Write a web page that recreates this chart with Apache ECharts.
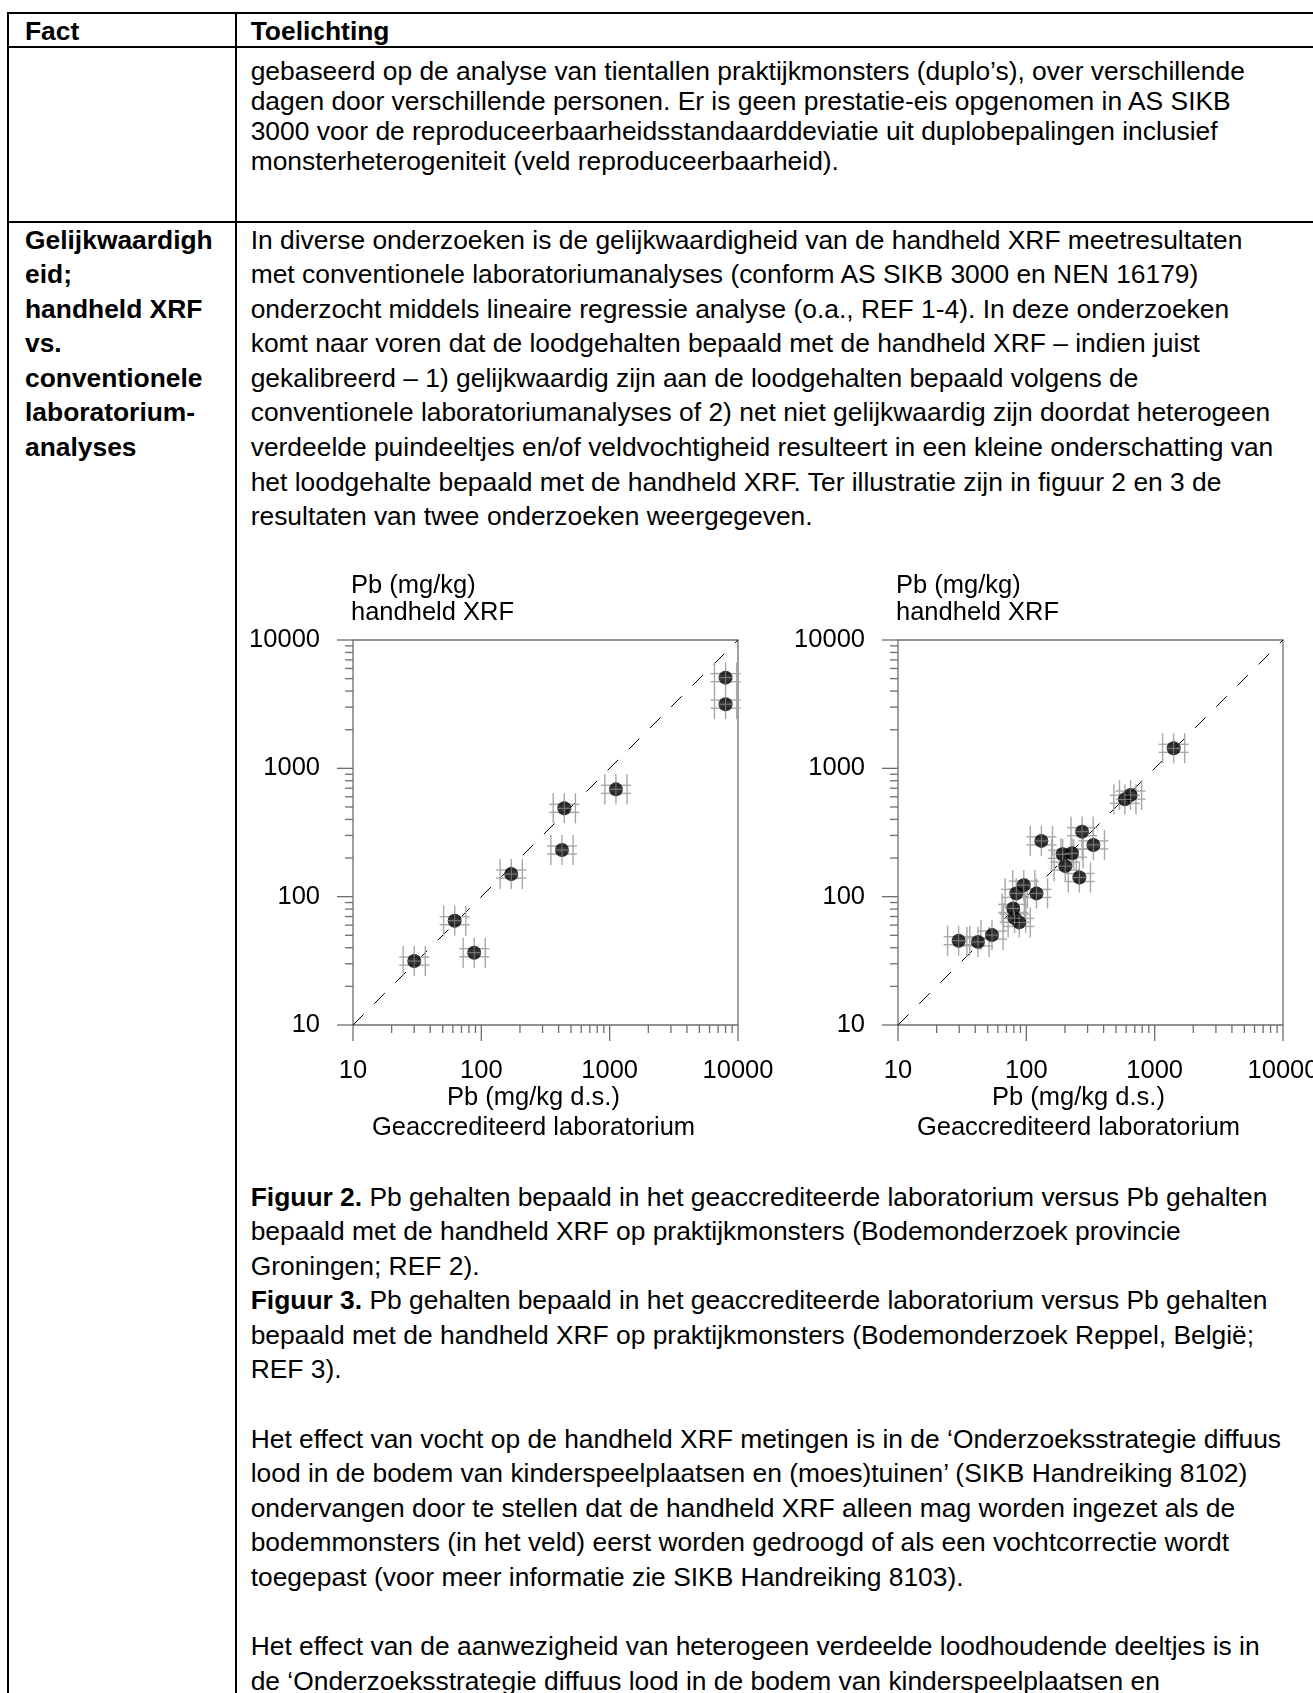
<!DOCTYPE html>
<html><head><meta charset="utf-8">
<script src="https://cdn.jsdelivr.net/npm/echarts@6/dist/echarts.min.js"></script>
<style>
html,body{margin:0;padding:0;background:#fff;width:1313px;height:1693px;overflow:hidden;}
body{position:relative;font-family:"Liberation Sans",Arial,sans-serif;font-size:26.4px;color:#000;}
.hl{position:absolute;left:7px;right:0;height:2px;background:#000;}
.vl{position:absolute;top:12px;bottom:0;width:2px;background:#000;}
.blk{position:absolute;line-height:34.6px;white-space:nowrap;}
.b{font-weight:bold;}
#chart{position:absolute;left:0;top:568px;width:1400px;height:612px;}
</style></head><body>
<div class="hl" style="top:12px"></div>
<div class="hl" style="top:46px"></div>
<div class="hl" style="top:221px"></div>
<div class="vl" style="left:7px"></div>
<div class="vl" style="left:235px"></div>
<div class="blk b" style="left:25px;top:14px">Fact</div>
<div class="blk b" style="left:250.7px;top:14px">Toelichting</div>
<div class="blk" style="left:250.7px;top:56px;line-height:30px">gebaseerd op de analyse van tientallen praktijkmonsters (duplo’s), over verschillende<br>dagen door verschillende personen. Er is geen prestatie-eis opgenomen in AS SIKB<br>3000 voor de reproduceerbaarheidsstandaarddeviatie uit duplobepalingen inclusief<br>monsterheterogeniteit (veld reproduceerbaarheid).</div>
<div class="blk b" style="left:25px;top:222.5px">Gelijkwaardigh<br>eid;<br>handheld XRF<br>vs.<br>conventionele<br>laboratorium-<br>analyses</div>
<div class="blk" style="left:250.7px;top:222.5px">In diverse onderzoeken is de gelijkwaardigheid van de handheld XRF meetresultaten<br>met conventionele laboratoriumanalyses (conform AS SIKB 3000 en NEN 16179)<br>onderzocht middels lineaire regressie analyse (o.a., REF 1-4). In deze onderzoeken<br>komt naar voren dat de loodgehalten bepaald met de handheld XRF – indien juist<br>gekalibreerd – 1) gelijkwaardig zijn aan de loodgehalten bepaald volgens de<br>conventionele laboratoriumanalyses of 2) net niet gelijkwaardig zijn doordat heterogeen<br>verdeelde puindeeltjes en/of veldvochtigheid resulteert in een kleine onderschatting van<br>het loodgehalte bepaald met de handheld XRF. Ter illustratie zijn in figuur 2 en 3 de<br>resultaten van twee onderzoeken weergegeven.</div>
<div id="chart"></div>
<div class="blk" style="left:250.7px;top:1179.5px"><b>Figuur 2.</b> Pb gehalten bepaald in het geaccrediteerde laboratorium versus Pb gehalten<br>bepaald met de handheld XRF op praktijkmonsters (Bodemonderzoek provincie<br>Groningen; REF 2).<br><b>Figuur 3.</b> Pb gehalten bepaald in het geaccrediteerde laboratorium versus Pb gehalten<br>bepaald met de handheld XRF op praktijkmonsters (Bodemonderzoek Reppel, België;<br>REF 3).<br>&nbsp;<br>Het effect van vocht op de handheld XRF metingen is in de ‘Onderzoeksstrategie diffuus<br>lood in de bodem van kinderspeelplaatsen en (moes)tuinen’ (SIKB Handreiking 8102)<br>ondervangen door te stellen dat de handheld XRF alleen mag worden ingezet als de<br>bodemmonsters (in het veld) eerst worden gedroogd of als een vochtcorrectie wordt<br>toegepast (voor meer informatie zie SIKB Handreiking 8103).<br>&nbsp;<br>Het effect van de aanwezigheid van heterogeen verdeelde loodhoudende deeltjes is in<br>de ‘Onderzoeksstrategie diffuus lood in de bodem van kinderspeelplaatsen en</div>
<script>
// ---- data ----
const axisMin = 10, axisMax = 10000;
const diagonal = [[10, 10], [10000, 10000]];
// Figuur 2 (Groningen)
const fig2Lab = [30, 62, 88, 171, 443, 425, 1119, 8000, 8000];
const fig2Xrf = [31.5, 65, 36.6, 150, 488, 231, 686, 5090, 3160];
// Figuur 3 (Reppel)
const fig3Lab = [29.7, 42, 54, 79, 81, 88, 83.5, 95.5, 120, 131, 192, 201, 227, 259, 272, 333, 586, 649, 1406];
const fig3Xrf = [45.4, 44.4, 50.2, 81, 68, 63, 106, 123, 106, 272, 214, 173, 218, 141, 321, 253, 573, 619, 1432];
const yTitle = ['Pb (mg/kg)', 'handheld XRF'];
const xTitle = ['Pb (mg/kg d.s.)', 'Geaccrediteerd laboratorium'];

const FONT = '"Liberation Sans", Arial, sans-serif';
const AX = '#6e6e6e';
const chart = echarts.init(document.getElementById('chart'), null, {renderer: 'canvas'});

// tick positions generated from the log axis decades (1..9 x 10^k)
const ticks = [];
for (let d = axisMin; d < axisMax; d *= 10) {
  for (let m = 1; m < 10; m++) {
    ticks.push([d * m, 0, m === 1 ? 1 : 0]);
    ticks.push([d * m, 1, m === 1 ? 1 : 0]);
  }
}
ticks.push([axisMax, 0, 1]); ticks.push([axisMax, 1, 1]);

const grids = [{left: 353, top: 72, width: 385, height: 385}, {left: 898, top: 72, width: 385, height: 385}];

function pts(a, b) { return a.map((v, i) => [v, b[i]]); }

function tickSeries(gi) {
  return {
    type: 'custom', xAxisIndex: gi, yAxisIndex: gi, clip: false, silent: true, z: 6,
    encode: {x: 0, y: 0},
    data: ticks,
    renderItem: (params, api) => {
      const v = api.value(0), ax = api.value(1), maj = api.value(2);
      const len = maj ? 16 : 8;
      const st = {stroke: AX, lineWidth: 1.3};
      if (ax === 0) {
        const p = api.coord([v, axisMin]);
        return {type: 'line', shape: {x1: p[0], y1: p[1], x2: p[0], y2: p[1] + len}, style: st};
      }
      const p = api.coord([axisMin, v]);
      return {type: 'line', shape: {x1: p[0] - len, y1: p[1], x2: p[0], y2: p[1]}, style: st};
    }
  };
}

// gray error-bar grid drawn under the points
function errSeries(gi, data) {
  return {
    type: 'custom', xAxisIndex: gi, yAxisIndex: gi, clip: false, silent: true, z: 2,
    encode: {x: 0, y: 1},
    data: data,
    renderItem: (params, api) => {
      const x = api.value(0), y = api.value(1);
      const F2 = 1.31, F3 = 1.22, F1 = 1.075;
      const c = api.coord([x, y]);
      const l = api.coord([x / F2, y])[0], r = api.coord([x * F2, y])[0];
      const t = api.coord([x, y * F2])[1], b = api.coord([x, y / F2])[1];
      const xl = api.coord([x / F3, y])[0], xr = api.coord([x * F3, y])[0];
      const yt = api.coord([x, y * F1])[1], yb = api.coord([x, y / F1])[1];
      const st = {stroke: '#a8a8a8', lineWidth: 1.4};
      const L = (x1, y1, x2, y2) => ({type: 'line', shape: {x1, y1, x2, y2}, style: st});
      return {type: 'group', children: [
        L(l, yt, r, yt), L(l, yb, r, yb),
        L(xl, t, xl, b), L(xr, t, xr, b),
        L(c[0], t, c[0], b)
      ]};
    }
  };
}
// thin cross over each point
function crossSeries(gi, data) {
  return {
    type: 'custom', xAxisIndex: gi, yAxisIndex: gi, clip: false, silent: true, z: 5,
    encode: {x: 0, y: 1},
    data: data,
    renderItem: (params, api) => {
      const c = api.coord([api.value(0), api.value(1)]);
      const st = {stroke: '#8a8a8a', lineWidth: 0.9};
      return {type: 'group', children: [
        {type: 'line', shape: {x1: c[0], y1: c[1] - 7, x2: c[0], y2: c[1] + 7}, style: st},
        {type: 'line', shape: {x1: c[0] - 7, y1: c[1], x2: c[0] + 7, y2: c[1]}, style: st}
      ]};
    }
  };
}

function mkAxis(gi) {
  return {gridIndex: gi, type: 'log', logBase: 10, min: axisMin, max: axisMax,
    axisLine: {show: false}, axisTick: {show: false}, splitLine: {show: false},
    axisLabel: {margin: 33, fontSize: 25.5, fontFamily: FONT, color: '#000', formatter: v => String(Math.round(v))}};
}

const graphics = [];
grids.forEach(g => {
  yTitle.forEach((s, i) => graphics.push({type: 'text', x: g.left - 2, y: 18 + i * 27,
    style: {text: s, font: '25.5px ' + FONT, fill: '#000', align: 'left', verticalAlign: 'middle'}}));
  xTitle.forEach((s, i) => graphics.push({type: 'text', x: g.left + g.width / 2 - 12, y: 530 + i * 30,
    style: {text: s, font: '25.5px ' + FONT, fill: '#000', align: 'center', verticalAlign: 'middle'}}));
});

const series = [];
[[fig2Lab, fig2Xrf], [fig3Lab, fig3Xrf]].forEach((d, gi) => {
  const p = pts(d[0], d[1]);
  series.push({type: 'line', xAxisIndex: gi, yAxisIndex: gi, data: diagonal, symbol: 'none', silent: true, z: 1,
    lineStyle: {color: '#000', width: 1, type: [15, 15]}});
  series.push(errSeries(gi, p));
  series.push({type: 'scatter', xAxisIndex: gi, yAxisIndex: gi, data: p, symbol: 'circle', symbolSize: 14,
    itemStyle: {color: '#000'}, z: 3});
  series.push(crossSeries(gi, p));
  series.push(tickSeries(gi));
});

chart.setOption({
  animation: false,
  grid: grids.map(g => Object.assign({show: true, borderColor: AX, borderWidth: 1.3, backgroundColor: 'transparent'}, g)),
  xAxis: [mkAxis(0), mkAxis(1)],
  yAxis: [mkAxis(0), mkAxis(1)],
  graphic: graphics,
  series: series
});
</script>
</body></html>
